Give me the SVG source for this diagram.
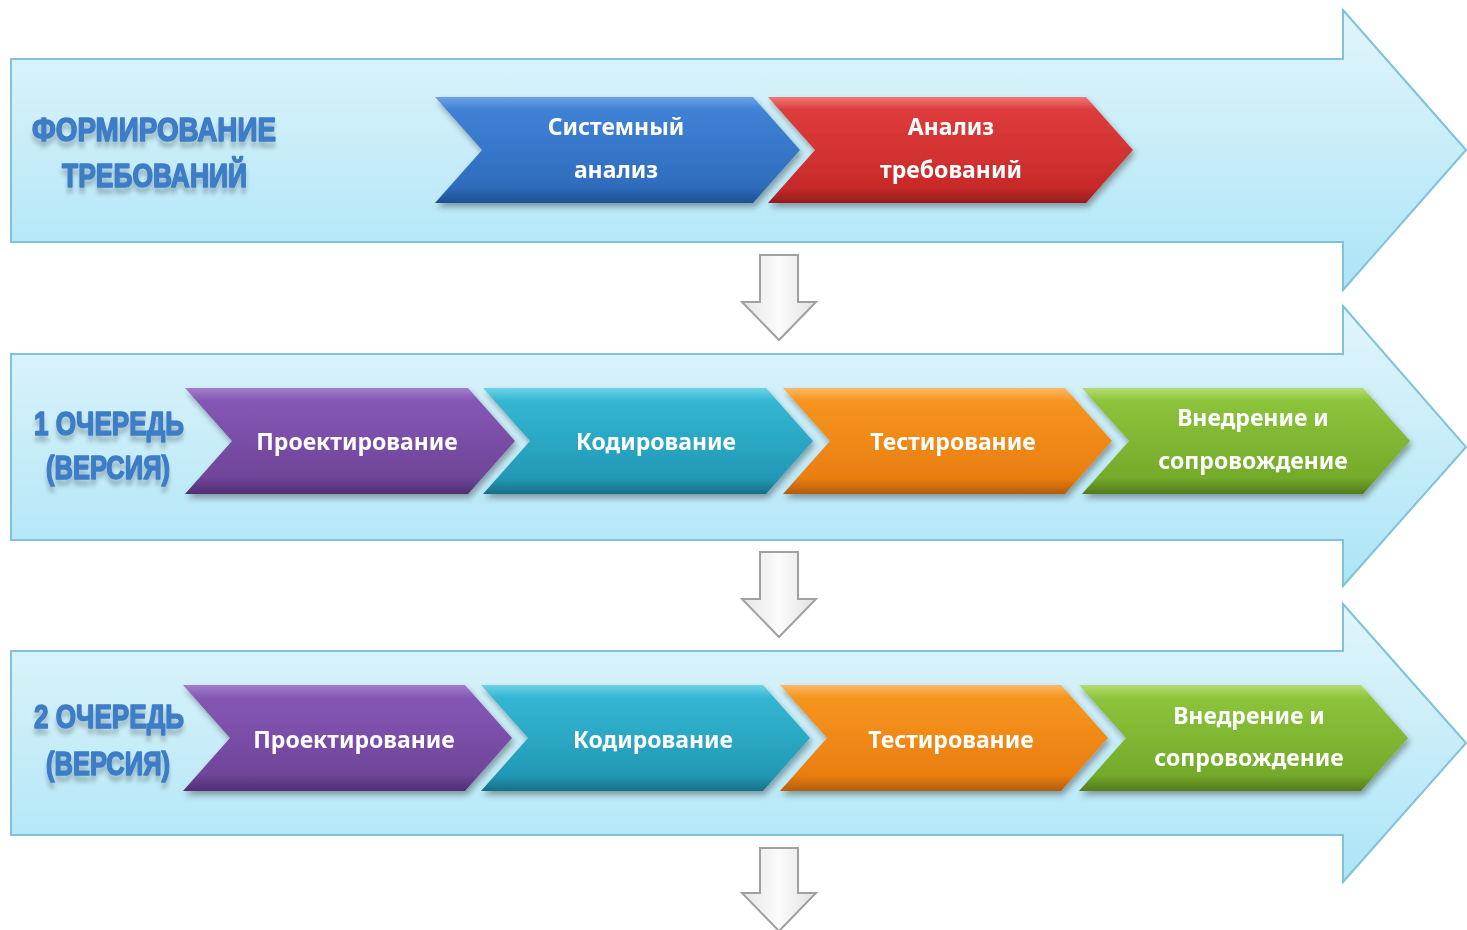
<svg xmlns="http://www.w3.org/2000/svg" width="1467" height="930" viewBox="0 0 1467 930">
<defs>
<style>
.big{fill:url(#gBig);stroke:#7fc2da;stroke-width:2}
.down{fill:url(#gDown);stroke:#a0a0a0;stroke-width:2}
.chev{filter:url(#sh)}
.ct{font-family:"Noto Sans","Liberation Sans",sans-serif;font-weight:700;font-size:23px;fill:#ffffff;text-anchor:middle}
.lbl{font-family:"Liberation Sans",Arial,sans-serif;font-weight:700;font-size:34px;fill:#3d7cc6;stroke:#3d7cc6;stroke-width:1.6;stroke-linejoin:round;filter:url(#tsh)}
</style>
<linearGradient id="gBig" x1="0" y1="0" x2="0" y2="1">
<stop offset="0" stop-color="#e2f5fb"/><stop offset="1" stop-color="#ace5f6"/>
</linearGradient>
<linearGradient id="gDown" x1="0" y1="0" x2="1" y2="0">
<stop offset="0" stop-color="#e6e6e6"/><stop offset="0.5" stop-color="#fbfbfb"/><stop offset="1" stop-color="#e2e2e2"/>
</linearGradient>
<linearGradient id="gBlue" x1="0" y1="0" x2="0" y2="1">
<stop offset="0" stop-color="#6ea3e6"/><stop offset="0.12" stop-color="#3f82d6"/><stop offset="0.85" stop-color="#2f6cbc"/><stop offset="1" stop-color="#204f90"/>
</linearGradient>
<linearGradient id="gRed" x1="0" y1="0" x2="0" y2="1">
<stop offset="0" stop-color="#ef7777"/><stop offset="0.12" stop-color="#de3c3c"/><stop offset="0.85" stop-color="#c92a2a"/><stop offset="1" stop-color="#951d1d"/>
</linearGradient>
<linearGradient id="gPurple" x1="0" y1="0" x2="0" y2="1">
<stop offset="0" stop-color="#a47fcb"/><stop offset="0.12" stop-color="#8557b5"/><stop offset="0.85" stop-color="#6e4599"/><stop offset="1" stop-color="#4f2f72"/>
</linearGradient>
<linearGradient id="gCyan" x1="0" y1="0" x2="0" y2="1">
<stop offset="0" stop-color="#6fd2e6"/><stop offset="0.12" stop-color="#33b6d2"/><stop offset="0.85" stop-color="#2399b6"/><stop offset="1" stop-color="#176f86"/>
</linearGradient>
<linearGradient id="gOrange" x1="0" y1="0" x2="0" y2="1">
<stop offset="0" stop-color="#fbb866"/><stop offset="0.12" stop-color="#f6951f"/><stop offset="0.85" stop-color="#ea7e10"/><stop offset="1" stop-color="#b35d0a"/>
</linearGradient>
<linearGradient id="gGreen" x1="0" y1="0" x2="0" y2="1">
<stop offset="0" stop-color="#b6dc72"/><stop offset="0.12" stop-color="#8cc43c"/><stop offset="0.85" stop-color="#74aa2a"/><stop offset="1" stop-color="#527a1c"/>
</linearGradient>
<filter id="sh" x="-10%" y="-20%" width="120%" height="150%">
<feGaussianBlur in="SourceAlpha" stdDeviation="3"/><feOffset dx="2" dy="4" result="b"/>
<feComponentTransfer><feFuncA type="linear" slope="0.35"/></feComponentTransfer>
<feMerge><feMergeNode/><feMergeNode in="SourceGraphic"/></feMerge>
</filter>
<filter id="tsh" x="-10%" y="-30%" width="120%" height="180%">
<feGaussianBlur in="SourceAlpha" stdDeviation="2"/><feOffset dx="0" dy="6"/>
<feComponentTransfer><feFuncA type="linear" slope="0.22"/></feComponentTransfer>
<feMerge><feMergeNode/><feMergeNode in="SourceGraphic"/></feMerge>
</filter>
</defs>
<rect width="1467" height="930" fill="#ffffff"/>

<g id="band1"><path class="big" d="M11,59 H1343 V10 L1466,150 L1343,290 V242 H11 Z"/></g>
<g id="band2"><path class="big" d="M11,354 H1343 V306 L1466,447 L1343,586 V540 H11 Z"/></g>
<g id="band3"><path class="big" d="M11,651 H1343 V604 L1466,743 L1343,882 V835 H11 Z"/></g>

<g id="connectors">
<path class="down" d="M760,255 H798 V302 H816 L779,340 L742,302 H760 Z"/>
<path class="down" d="M760,552 H798 V599 H816 L779,637 L742,599 H760 Z"/>
<path class="down" d="M760,848 H798 V893 H816 L779,931 L742,893 H760 Z"/>
</g>

<g id="label1">
<text class="lbl" x="32" y="141" textLength="244" lengthAdjust="spacingAndGlyphs">ФОРМИРОВАНИЕ</text>
<text class="lbl" x="62" y="187" textLength="185" lengthAdjust="spacingAndGlyphs">ТРЕБОВАНИЙ</text>
</g>
<g id="label2">
<text class="lbl" x="34" y="435" textLength="150" lengthAdjust="spacingAndGlyphs">1 ОЧЕРЕДЬ</text>
<text class="lbl" x="46" y="479" textLength="124" lengthAdjust="spacingAndGlyphs">(ВЕРСИЯ)</text>
</g>
<g id="label3">
<text class="lbl" x="34" y="728" textLength="150" lengthAdjust="spacingAndGlyphs">2 ОЧЕРЕДЬ</text>
<text class="lbl" x="46" y="775" textLength="124" lengthAdjust="spacingAndGlyphs">(ВЕРСИЯ)</text>
</g>

<g id="n-sysanaliz" class="chev">
<path fill="url(#gBlue)" d="M435,97 H753 L800,150 L753,203 H435 L482,150 Z"/>
<text class="ct" x="616" y="135">Системный</text>
<text class="ct" x="616" y="178">анализ</text>
</g>
<g id="n-analiz-treb" class="chev">
<path fill="url(#gRed)" d="M768,97 H1086 L1133,150 L1086,203 H768 L815,150 Z"/>
<text class="ct" x="951" y="135">Анализ</text>
<text class="ct" x="951" y="178">требований</text>
</g>

<g id="n-proekt1" class="chev">
<path fill="url(#gPurple)" d="M185,388 H468 L515,441 L468,494 H185 L232,441 Z"/>
<text class="ct" x="357" y="450">Проектирование</text>
</g>
<g id="n-kod1" class="chev">
<path fill="url(#gCyan)" d="M483,388 H766 L813,441 L766,494 H483 L530,441 Z"/>
<text class="ct" x="656" y="450">Кодирование</text>
</g>
<g id="n-test1" class="chev">
<path fill="url(#gOrange)" d="M783,388 H1065 L1112,441 L1065,494 H783 L830,441 Z"/>
<text class="ct" x="953" y="450">Тестирование</text>
</g>
<g id="n-vnedr1" class="chev">
<path fill="url(#gGreen)" d="M1082,388 H1363 L1410,441 L1363,494 H1082 L1129,441 Z"/>
<text class="ct" x="1253" y="426">Внедрение и</text>
<text class="ct" x="1253" y="469">сопровождение</text>
</g>

<g id="n-proekt2" class="chev">
<path fill="url(#gPurple)" d="M183,685 H465 L512,738 L465,791 H183 L230,738 Z"/>
<text class="ct" x="354" y="748">Проектирование</text>
</g>
<g id="n-kod2" class="chev">
<path fill="url(#gCyan)" d="M481,685 H763 L810,738 L763,791 H481 L528,738 Z"/>
<text class="ct" x="653" y="748">Кодирование</text>
</g>
<g id="n-test2" class="chev">
<path fill="url(#gOrange)" d="M780,685 H1061 L1108,738 L1061,791 H780 L827,738 Z"/>
<text class="ct" x="951" y="748">Тестирование</text>
</g>
<g id="n-vnedr2" class="chev">
<path fill="url(#gGreen)" d="M1079,685 H1361 L1408,738 L1361,791 H1079 L1126,738 Z"/>
<text class="ct" x="1249" y="724">Внедрение и</text>
<text class="ct" x="1249" y="766">сопровождение</text>
</g>
</svg>
